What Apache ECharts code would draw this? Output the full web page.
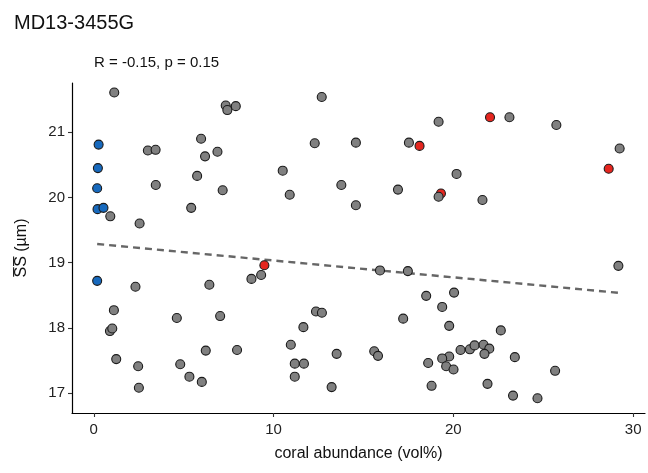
<!DOCTYPE html>
<html>
<head>
<meta charset="utf-8">
<script src="https://cdn.jsdelivr.net/npm/echarts@6/dist/echarts.min.js"></script>
<style>
  html, body { margin: 0; padding: 0; background: #fff; }
  #chart { width: 648px; height: 473px; }
</style>
</head>
<body>
<div id="chart"></div>
<script>
// coral abundance (vol%) vs mean sortable silt (µm), core MD13-3455G
const grayX = [1.14, 7.34, 7.43, 7.9, 12.68, 3.01, 3.44, 5.97, 6.19, 6.88, 12.29, 14.58,
    3.45, 5.75, 7.17, 10.51, 10.9, 13.77, 0.92, 2.55, 5.42, 14.58,
    19.18, 23.12, 25.73, 17.53, 29.25, 20.18, 16.92, 19.18, 21.62,
    9.31, 8.77, 2.32, 6.43, 1.12, 4.62, 7.03, 12.36, 12.69, 11.66, 0.9, 1.03,
    10.96, 13.51, 6.23, 7.97, 1.25, 2.47, 4.81, 11.18, 11.69, 5.32, 6.01, 11.18, 2.51, 13.23,
    15.92, 17.47, 29.18, 18.49, 20.04, 19.38, 17.21, 19.77, 22.64, 15.6, 15.81,
    20.4, 20.92, 21.18, 21.68, 22.0, 21.73, 23.42, 19.77, 19.38, 18.6, 19.6, 20.01,
    25.66, 18.79, 21.9, 23.32, 24.68];
const grayY = [21.61, 21.41, 21.34, 21.40, 21.54, 20.72, 20.73, 20.90, 20.63, 20.70, 20.83, 20.84,
    20.19, 20.33, 20.11, 20.41, 20.04, 20.19, 19.71, 19.60, 19.84, 19.88,
    21.16, 21.23, 21.11, 20.84, 20.75, 20.36, 20.12, 20.01, 19.96,
    18.81, 18.75, 18.63, 18.66, 18.27, 18.15, 18.18, 18.25, 18.23, 18.01, 17.95, 17.99,
    17.74, 17.60, 17.65, 17.66, 17.52, 17.41, 17.44, 17.45, 17.45, 17.25, 17.17, 17.25, 17.08, 17.09,
    18.88, 18.87, 18.95, 18.49, 18.54, 18.32, 18.14, 18.03, 17.96, 17.64, 17.57,
    17.66, 17.67, 17.73, 17.74, 17.68, 17.60, 17.55, 17.56, 17.53, 17.46, 17.41, 17.36,
    17.34, 17.11, 17.14, 16.96, 16.92];
const blueX = [0.27, 0.23, 0.19, 0.21, 0.54, 0.19];
const blueY = [20.81, 20.45, 20.14, 19.82, 19.84, 18.72];
const redX = [22.04, 18.12, 28.64, 19.31, 9.49];
const redY = [21.23, 20.79, 20.44, 20.06, 18.96];

// linear fit
const fitIntercept = 19.29;
const fitSlope = -0.0258;

const xTicks = [0, 10, 20, 30];
const yTicks = [17, 18, 19, 20, 21];

const allX = grayX.concat(blueX, redX);
const fitX = [Math.min(...allX), Math.max(...allX)];
const fitLine = fitX.map(x => [x, fitIntercept + fitSlope * x]);

const pairs = (xs, ys) => xs.map((x, i) => [x, ys[i]]);

const dom = document.getElementById('chart');
const myChart = echarts.init(dom, null, { renderer: 'canvas' });

const axisCommon = {
    type: 'value',
    splitLine: { show: false },
    axisLine: { show: true, onZero: false, lineStyle: { color: '#000', width: 1.2 } },
    axisTick: { show: true, inside: false, length: 4, lineStyle: { color: '#333', width: 1.1 } },
    axisLabel: { color: '#222', fontSize: 15, fontFamily: 'Liberation Sans' },
    nameLocation: 'middle',
    nameTextStyle: { color: '#111', fontSize: 16, fontFamily: 'Liberation Sans' }
};

const dotStyle = color => ({ color: color, opacity: 1, borderColor: '#1a1a1a', borderWidth: 1.1 });

const option = {
    backgroundColor: '#fff',
    animation: false,
    title: [
        { text: 'MD13-3455G', left: 9, top: 8,
          textStyle: { fontSize: 20, fontWeight: 'normal', color: '#111', fontFamily: 'Liberation Sans' } },
        { text: 'R = -0.15, p = 0.15', left: 89, top: 50,
          textStyle: { fontSize: 15, fontWeight: 'normal', color: '#111', fontFamily: 'Liberation Sans' } }
    ],
    grid: { left: 72, right: 3, top: 83, bottom: 60 },
    xAxis: Object.assign({}, axisCommon, {
        min: -1.21, max: 30.66,
        name: 'coral abundance (vol%)', nameGap: 33,
        axisTick: Object.assign({}, axisCommon.axisTick, { customValues: xTicks }),
        axisLabel: Object.assign({}, axisCommon.axisLabel, { customValues: xTicks, margin: 9 })
    }),
    yAxis: Object.assign({}, axisCommon, {
        min: 16.693, max: 21.755,
        name: 'S\u0305S\u0305 (\u00b5m)', nameGap: 42,
        axisTick: Object.assign({}, axisCommon.axisTick, { customValues: yTicks }),
        axisLabel: Object.assign({}, axisCommon.axisLabel, { customValues: yTicks, margin: 7 })
    }),
    series: [
        { type: 'line', data: fitLine, symbol: 'none', z: 1,
          lineStyle: { color: '#666', width: 2.4, type: [7, 5] } },
        { type: 'scatter', data: pairs(blueX, blueY), symbolSize: 9, itemStyle: dotStyle('#1769bd'), z: 2 },
        { type: 'scatter', data: pairs(redX, redY), symbolSize: 9, itemStyle: dotStyle('#e5261f'), z: 2 },
        { type: 'scatter', data: pairs(grayX, grayY), symbolSize: 9, itemStyle: dotStyle('#808080'), z: 3 }
    ]
};
myChart.setOption(option);
window.addEventListener('resize', () => myChart.resize());
</script>
</body>
</html>
